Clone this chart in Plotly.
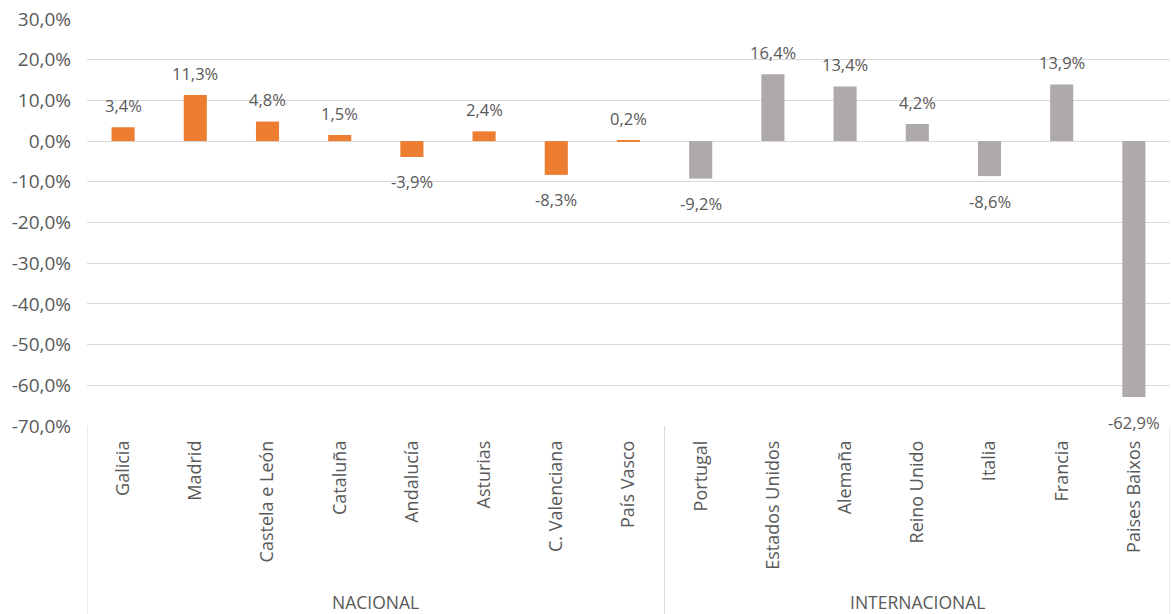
import plotly.graph_objects as go

groups = ["NACIONAL", "INTERNACIONAL"]
nacional_cats = ["Galicia", "Madrid", "Castela e León", "Cataluña", "Andalucía",
                 "Asturias", "C. Valenciana", "País Vasco"]
nacional_vals = [3.4, 11.3, 4.8, 1.5, -3.9, 2.4, -8.3, 0.2]
internacional_cats = ["Portugal", "Estados Unidos", "Alemaña", "Reino Unido", "Italia",
                      "Francia", "Paises Baixos"]
internacional_vals = [-9.2, 16.4, 13.4, 4.2, -8.6, 13.9, -62.9]
y_ticks = [30, 20, 10, 0, -10, -20, -30, -40, -50, -60, -70]

ORANGE = "#ED7D31"
GRAY = "#AEAAAA"
TXT = "#595959"
GRID = "#D9D9D9"
FONT = "Open Sans"

def pct(v):
    return f"{v:.1f}%".replace(".", ",")

cats = nacional_cats + internacional_cats
vals = nacional_vals + internacional_vals

fig = go.Figure()
fig.add_trace(go.Bar(x=nacional_cats, y=nacional_vals, marker_color=ORANGE,
                     marker_line_width=0, showlegend=False, hoverinfo="skip"))
fig.add_trace(go.Bar(x=internacional_cats, y=internacional_vals, marker_color=GRAY,
                     marker_line_width=0, showlegend=False, hoverinfo="skip"))

for c, v in zip(cats, vals):
    fig.add_annotation(x=c, y=v, text=pct(v), showarrow=False, xref="x", yref="y",
                       yanchor="middle", yshift=22 if v >= 0 else -25,
                       font=dict(family=FONT, size=16.5, color=TXT))

# category box below the plot
n1 = len(nacional_cats)
n = len(cats)
box_bottom = -0.47
for xv in [-0.5, n1 - 0.5, n - 0.5]:
    fig.add_shape(type="line", xref="x", yref="paper", x0=xv, x1=xv, y0=0, y1=box_bottom,
                  line=dict(color=GRID, width=1))

fig.add_annotation(x=(n1 - 1) / 2, y=-0.432, xref="x", yref="paper", text=groups[0],
                   showarrow=False, yanchor="middle",
                   font=dict(family=FONT, size=17.5, color=TXT))
fig.add_annotation(x=n1 + (n - n1 - 1) / 2, y=-0.432, xref="x", yref="paper", text=groups[1],
                   showarrow=False, yanchor="middle",
                   font=dict(family=FONT, size=17.5, color=TXT))

fig.update_layout(
    width=1171, height=614, autosize=False,
    margin=dict(l=87, r=1, t=19, b=188, autoexpand=False),
    paper_bgcolor="white", plot_bgcolor="white",
    barmode="overlay", bargap=0.68,
    font=dict(family=FONT, color=TXT),
)
fig.update_xaxes(categoryorder="array", categoryarray=cats, range=[-0.5, n - 0.5],
                 tickangle=-90, tickfont=dict(family=FONT, size=18, color=TXT),
                 showgrid=False, showline=False, ticks="", ticklabelstandoff=10,
                 fixedrange=True, automargin=False)
fig.update_yaxes(range=[-70, 30], tickvals=y_ticks, ticktext=[pct(t) for t in y_ticks],
                 tickfont=dict(family=FONT, size=19, color=TXT),
                 showgrid=True, gridcolor=GRID, gridwidth=1, zeroline=False,
                 showline=False, ticks="", ticklabelstandoff=15, fixedrange=True,
                 automargin=False)

fig.write_html("out.html", config={"displayModeBar": False},
               post_script="document.body.style.margin='0';document.body.style.overflow='hidden';")
